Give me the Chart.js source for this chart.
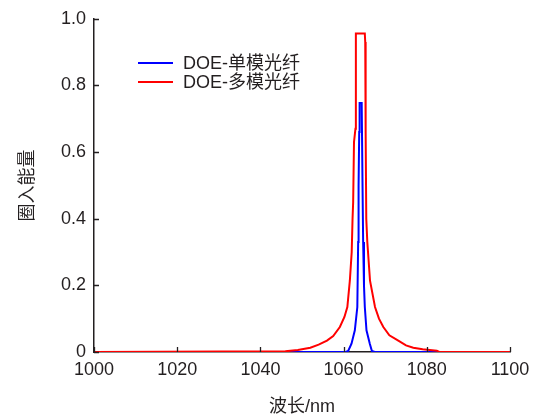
<!DOCTYPE html>
<html>
<head>
<meta charset="utf-8">
<script src="https://cdn.jsdelivr.net/npm/chart.js@4.4.0/dist/chart.umd.min.js"></script>
<style>
  body { margin: 0; background: #fff; }
</style>
</head>
<body>
<canvas id="chartContainer" width="539" height="418"></canvas>
<script>
// 数据
const seriesNames = ['DOE-单模光纤', 'DOE-多模光纤'];
const seriesColors = ['#0000ff', '#ff0000'];

const singleX = [1000, 1060.5, 1061.1, 1061.9, 1062.7, 1063.3, 1063.5, 1063.6, 1063.75, 1063.85, 1064.35, 1064.55, 1064.7, 1064.9, 1065.1, 1065.5, 1066.3, 1066.8, 1067.5, 1100];
const singleY = [0, 0, 0.003, 0.025, 0.065, 0.135, 0.33, 0.5, 0.66, 0.747, 0.747, 0.5, 0.33, 0.2, 0.135, 0.065, 0.025, 0.003, 0, 0];

const multiX = [1000, 1046, 1049, 1052, 1054, 1056, 1057.5, 1059.1, 1060.2, 1060.9, 1061.5, 1061.95, 1062.15, 1062.3, 1062.5, 1062.85, 1062.95, 1065.1, 1065.2, 1065.3, 1065.45, 1065.7, 1066.35, 1067.55, 1068.5, 1069.55, 1071, 1073.15, 1075, 1076.75, 1079, 1082.4, 1083, 1100];
const multiY = [0, 0.002, 0.006, 0.013, 0.022, 0.034, 0.048, 0.075, 0.105, 0.135, 0.214, 0.30, 0.40, 0.45, 0.63, 0.67, 0.956, 0.956, 0.93, 0.66, 0.40, 0.33, 0.214, 0.135, 0.1, 0.075, 0.05, 0.034, 0.02, 0.013, 0.008, 0.004, 0, 0];

const xTicks = [1000, 1020, 1040, 1060, 1080, 1100];
const yTicks = [0, 0.2, 0.4, 0.6, 0.8, 1.0];

const axisColor = '#231f20';
const fontFamily = '"Liberation Sans", Arial, "Noto Sans CJK SC", sans-serif';

function toPoints(xs, ys) {
    return xs.map((x, i) => ({ x: x, y: ys[i] }));
}

// 刻度线朝内
const innerTicks = {
    id: 'innerTicks',
    afterDatasetsDraw(chart) {
        const { ctx, chartArea: a, scales } = chart;
        ctx.save();
        ctx.strokeStyle = axisColor;
        ctx.lineWidth = 1.3;
        ctx.beginPath();
        xTicks.forEach(v => {
            const px = Math.round(scales.x.getPixelForValue(v)) + 0.5;
            ctx.moveTo(px, a.bottom);
            ctx.lineTo(px, a.bottom - 5);
        });
        yTicks.forEach(v => {
            const py = Math.round(scales.y.getPixelForValue(v)) + 0.5;
            ctx.moveTo(a.left, py);
            ctx.lineTo(a.left + 5, py);
        });
        ctx.stroke();
        ctx.restore();
    }
};

// 图内图例
const innerLegend = {
    id: 'innerLegend',
    afterDraw(chart) {
        const ctx = chart.ctx;
        ctx.save();
        ctx.font = '18px ' + fontFamily;
        ctx.textBaseline = 'middle';
        ctx.fillStyle = axisColor;
        seriesNames.forEach((name, i) => {
            const y = 63 + i * 19;
            ctx.strokeStyle = seriesColors[i];
            ctx.lineWidth = 2.2;
            ctx.beginPath();
            ctx.moveTo(138, y);
            ctx.lineTo(173, y);
            ctx.stroke();
            ctx.fillText(name, 183, y + 1);
        });
        ctx.restore();
    }
};

const ctx = document.getElementById('chartContainer').getContext('2d');

const chart = new Chart(ctx, {
    type: 'line',
    data: {
        datasets: [{
            label: seriesNames[0],
            data: toPoints(singleX, singleY),
            borderColor: seriesColors[0],
            borderWidth: 2,
            pointRadius: 0,
            tension: 0,
            fill: false,
            order: 1
        }, {
            label: seriesNames[1],
            data: toPoints(multiX, multiY),
            borderColor: seriesColors[1],
            borderWidth: 2,
            pointRadius: 0,
            tension: 0,
            fill: false,
            order: 0
        }]
    },
    options: {
        responsive: false,
        animation: false,
        layout: { padding: { top: 17, right: 29, left: 0, bottom: 0 } },
        plugins: {
            legend: { display: false },
            tooltip: { enabled: false }
        },
        scales: {
            x: {
                type: 'linear',
                min: 1000,
                max: 1100,
                afterBuildTicks: s => { s.ticks = xTicks.map(v => ({ value: v })); },
                ticks: {
                    color: axisColor,
                    font: { family: fontFamily, size: 18 },
                    padding: 7,
                    maxRotation: 0,
                    callback: v => String(v)
                },
                grid: { drawOnChartArea: false, drawTicks: false },
                border: { color: axisColor, width: 1.5 },
                title: {
                    display: true,
                    text: '波长/nm',
                    color: axisColor,
                    font: { family: fontFamily, size: 18 },
                    padding: { top: 0, bottom: 0 }
                },
                afterFit: s => { s.height = 66; }
            },
            y: {
                min: 0,
                max: 1,
                afterBuildTicks: s => { s.ticks = yTicks.map(v => ({ value: v })); },
                ticks: {
                    color: axisColor,
                    font: { family: fontFamily, size: 18 },
                    padding: 8,
                    callback: v => v === 0 ? '0' : v.toFixed(1)
                },
                grid: { drawOnChartArea: false, drawTicks: false },
                border: { color: axisColor, width: 1.5 },
                title: {
                    display: true,
                    text: '圈入能量',
                    color: axisColor,
                    font: { family: fontFamily, size: 18 },
                    padding: { top: 17, bottom: 0 }
                },
                afterFit: s => { s.width = 94; }
            }
        }
    },
    plugins: [innerTicks, innerLegend]
});
</script>
</body>
</html>
